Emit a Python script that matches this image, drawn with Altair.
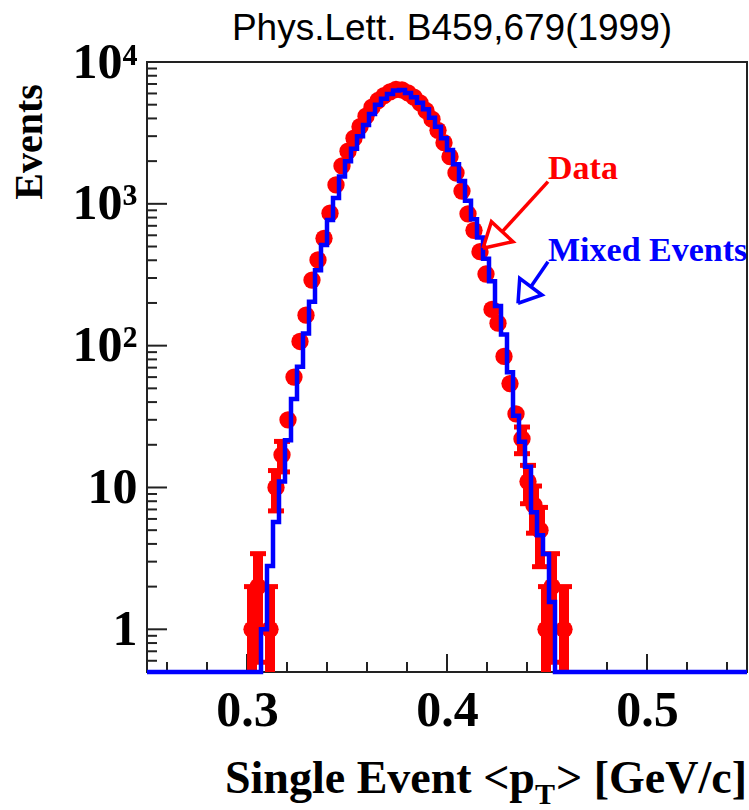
import math
import altair as alt
import pandas as pd

# ---------------- data ----------------
# Mixed-events histogram: 100 bins of width 0.003 from 0.25 to 0.55
mixed_bin_lo = 0.25
mixed_bin_width = 0.003
mixed_counts = ([0] * 19 +
                [1, 2.8, 5.7, 11, 21.5, 42, 71, 122, 204, 340,
                 512, 770, 1100, 1560, 2000, 2450, 3000, 3600, 4300, 5000,
                 5500, 5950, 6300, 6350, 6050, 5650, 5150, 4650, 4050, 3500,
                 2900, 2400, 1900, 1450, 1050, 780, 580, 410, 285, 190,
                 120, 65, 32, 21, 14, 6.7, 4.6, 3.4, 1.56] + [0] * 32)

# Data points (bin centres and counts)
data_x = [0.3025, 0.3055, 0.3115, 0.3145, 0.3175, 0.3205, 0.3235, 0.3265, 0.3295, 0.3325,
          0.3355, 0.3385, 0.3415, 0.3445, 0.3475, 0.3505, 0.3535, 0.3565, 0.3595, 0.3625,
          0.3655, 0.3685, 0.3715, 0.3745, 0.3775, 0.3805, 0.3835, 0.3865, 0.3895, 0.3925,
          0.3955, 0.3985, 0.4015, 0.4045, 0.4075, 0.4105, 0.4135, 0.4165, 0.4195, 0.4225,
          0.4255, 0.4285, 0.4315, 0.4345, 0.4375, 0.4405, 0.4435, 0.4465, 0.4495, 0.4525,
          0.4585]
data_y = [1, 2, 1, 10, 17, 30, 60, 107, 164, 290,
          402, 571, 859, 1360, 1850, 2350, 2900, 3500, 4150, 4800,
          5350, 5800, 6150, 6400, 6350, 6050, 5650, 5150, 4550, 3950,
          3300, 2700, 2150, 1650, 1230, 850, 650, 460, 320, 180,
          144, 84, 54, 33, 22, 11, 7.5, 5, 1, 2,
          1]

# axis ticks
x_major = [0.3, 0.4, 0.5]
x_minor = [0.26, 0.28, 0.32, 0.34, 0.36, 0.38, 0.42, 0.44, 0.46, 0.48, 0.52, 0.54]
y_major = [1, 10, 100, 1000, 10000]
y_minor = [0.6, 0.7, 0.8, 0.9, 2, 3, 4, 5, 6, 7, 8, 9,
           20, 30, 40, 50, 60, 70, 80, 90,
           200, 300, 400, 500, 600, 700, 800, 900,
           2000, 3000, 4000, 5000, 6000, 7000, 8000, 9000]

# annotation arrows (data coordinates)
red_arrow_x = [0.4505, 0.42765, 0.418, 0.4222, 0.433, 0.418]
red_arrow_y = [1435, 637, 486, 749, 541, 486]
red_arrow_seg = [0, 0, 1, 1, 1, 1]
blue_arrow_x = [0.4505, 0.44195, 0.4355, 0.43635, 0.4475, 0.4355]
blue_arrow_y = [391, 260, 199, 298.5, 227.5, 199]
blue_arrow_seg = [0, 0, 1, 1, 1, 1]

# ---------------- tables ----------------
edges = [mixed_bin_lo + mixed_bin_width * i for i in range(len(mixed_counts) + 1)]
mixed_df = pd.DataFrame({
    "x": edges,
    "y": [max(c, 0.5) for c in mixed_counts] + [max(mixed_counts[-1], 0.5)],
})

data_df = pd.DataFrame({"x": data_x, "y": data_y})
data_df["lo"] = [max(v - math.sqrt(v), 0.5) for v in data_y]
data_df["hi"] = [v + math.sqrt(v) for v in data_y]
err_df = data_df[data_df["y"] < 25]
caps_lo = err_df[err_df["lo"] > 0.5]

red_arrow = pd.DataFrame({"x": red_arrow_x, "y": red_arrow_y, "seg": red_arrow_seg,
                          "o": list(range(len(red_arrow_x)))})
blue_arrow = pd.DataFrame({"x": blue_arrow_x, "y": blue_arrow_y, "seg": blue_arrow_seg,
                           "o": list(range(len(blue_arrow_x)))})

SERIF = "Liberation Serif"
RED = "#ff0000"
BLUE = "#0000ff"
TICK = "#222222"

x_axis = alt.Axis(
    values=x_major,
    format=".1f",
    ticks=False,
    labelPadding=13,
    labelFont=SERIF, labelFontWeight="bold", labelFontSize=50, labelColor="black",
    labelOverlap=False, labelFlush=False, labelBound=False,
    domain=False, grid=False, title=None,
)
y_axis = alt.Axis(
    values=y_major,
    labelExpr="datum.value == 1 ? '1' : datum.value == 10 ? '10' : datum.value == 100 ? '10²' : datum.value == 1000 ? '10³' : datum.value == 10000 ? '10⁴' : ''",
    ticks=False,
    labelPadding=10,
    labelFont=SERIF, labelFontWeight="bold", labelFontSize=50, labelColor="black",
    labelOverlap=False, labelFlush=False, labelBound=False, labelBaseline="middle",
    domain=False, grid=False, title=None,
)
xs = alt.Scale(domain=[0.25, 0.55], nice=False, zero=False)
ys = alt.Scale(type="log", domain=[0.5, 10000], nice=False)


def X(field="x"):
    return alt.X(f"{field}:Q", scale=xs, axis=x_axis)


def Y(field="y"):
    return alt.Y(f"{field}:Q", scale=ys, axis=y_axis)


# inward-pointing tick marks (ROOT style)
ytm = alt.Chart(pd.DataFrame({"y": y_major})).mark_tick(
    color=TICK, orient="horizontal", size=20, thickness=2, opacity=1).encode(
    y=Y(), x=alt.value(10))
ytn = alt.Chart(pd.DataFrame({"y": y_minor})).mark_tick(
    color=TICK, orient="horizontal", size=10, thickness=2, opacity=1).encode(
    y=Y(), x=alt.value(5))
xtm = alt.Chart(pd.DataFrame({"x": x_major})).mark_tick(
    color=TICK, orient="vertical", size=18, thickness=2, opacity=1).encode(
    x=X(), y=alt.value(601))
xtn = alt.Chart(pd.DataFrame({"x": x_minor})).mark_tick(
    color=TICK, orient="vertical", size=10, thickness=2, opacity=1).encode(
    x=X(), y=alt.value(605))

err = alt.Chart(err_df).mark_rule(color=RED, strokeWidth=10).encode(
    x=X(), y=Y("lo"), y2="hi:Q")
cap_hi = alt.Chart(err_df).mark_tick(color=RED, size=16, thickness=5, orient="horizontal", opacity=1).encode(
    x=X(), y=Y("hi"))
cap_lo = alt.Chart(caps_lo).mark_tick(color=RED, size=16, thickness=5, orient="horizontal", opacity=1).encode(
    x=X(), y=Y("lo"))
pts = alt.Chart(data_df).mark_circle(color=RED, size=300, opacity=1).encode(x=X(), y=Y())

mixed = alt.Chart(mixed_df).mark_line(interpolate="step-after", color=BLUE, strokeWidth=4.5).encode(
    x=X(), y=Y())

red_arr = alt.Chart(red_arrow).mark_line(color=RED, strokeWidth=3.5).encode(
    x=X(), y=Y(), detail="seg:N", order="o:Q")
blue_arr = alt.Chart(blue_arrow).mark_line(color=BLUE, strokeWidth=3.5).encode(
    x=X(), y=Y(), detail="seg:N", order="o:Q")

lbl_df = pd.DataFrame({"x": [0.4505, 0.4505], "y": [1763, 465],
                       "t": ["Data", "Mixed Events"], "c": [RED, BLUE]})
labels = alt.Chart(lbl_df).mark_text(font=SERIF, fontWeight="bold", fontSize=34,
                                     align="left", baseline="middle").encode(
    x=X(), y=Y(), text="t:N", color=alt.Color("c:N", scale=None))

one = pd.DataFrame({"a": [0]})
title = alt.Chart(one).mark_text(text="Phys.Lett. B459,679(1999)", font="Liberation Sans",
                                 fontSize=37, align="center", baseline="alphabetic",
                                 color="black").encode(x=alt.value(305), y=alt.value(-22))
ytitle = alt.Chart(one).mark_text(text="Events", font=SERIF, fontWeight="bold", fontSize=40,
                                  angle=270, align="center", baseline="middle",
                                  color="black").encode(x=alt.value(-117), y=alt.value(80))
xt1 = alt.Chart(one).mark_text(text="Single Event <p", font=SERIF, fontWeight="bold", fontSize=46,
                               align="left", baseline="alphabetic", color="black").encode(
    x=alt.value(78), y=alt.value(731))
xt2 = alt.Chart(one).mark_text(text="T", font=SERIF, fontWeight="bold", fontSize=30,
                               align="left", baseline="alphabetic", color="black").encode(
    x=alt.value(388), y=alt.value(742))
xt3 = alt.Chart(one).mark_text(text="> [GeV/c]", font=SERIF, fontWeight="bold", fontSize=46,
                               align="left", baseline="alphabetic", color="black").encode(
    x=alt.value(409), y=alt.value(731))

chart = alt.layer(ytm, ytn, xtm, xtn, err, cap_hi, cap_lo, pts, mixed, red_arr, blue_arr, labels,
                  title, ytitle, xt1, xt2, xt3).properties(
    width=600, height=610,
    autosize=alt.AutoSizeParams(type="none"),
    padding={"left": 147, "top": 62, "right": 2, "bottom": 138},
    background="white",
).configure_view(stroke="#222222", strokeWidth=2)

chart.save("out.html", embed_options={"renderer": "svg", "actions": False})
